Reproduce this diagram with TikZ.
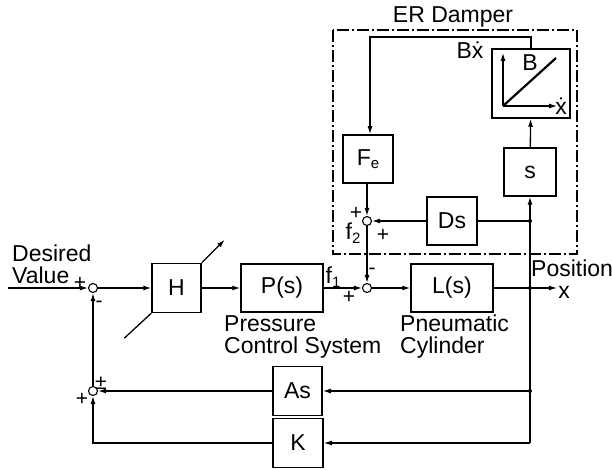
\documentclass[tikz,border=0pt]{standalone}
\usepackage{fontspec}
\setmainfont{Liberation Sans}
\usetikzlibrary{arrows.meta}
\newcommand\subtxt[1]{\raisebox{-0.3ex}{\fontsize{15}{15}\selectfont #1}}
\begin{document}
\begin{tikzpicture}[x=1pt,y=-1pt,
  every node/.style={font=\fontsize{23}{22}\selectfont},
  blk/.style={draw, line width=1.5pt, minimum width=50pt, minimum height=48pt, inner sep=0pt},
  sumj/.style={draw, circle, line width=1.1pt, minimum size=9pt, inner sep=0pt},
  con/.style={line width=1.3pt},
  arr/.style={con, -{Latex[length=8pt,width=5pt]}},
  sgn/.style={font=\fontsize{21}{21}\selectfont, inner sep=0pt},
  lbl/.style={inner sep=0pt},
  jdot/.style={circle, fill, inner sep=0pt, minimum size=4pt}]
\useasboundingbox (0,0) rectangle (612,470);
% blocks
\node[blk, minimum width=49pt, minimum height=49pt] (H) at (176.5,288) {H};
\node[blk, minimum width=82pt] (P) at (282,288) {P(s)};
\node[blk, minimum width=82pt] (L) at (452,288) {L(s)};
\node[blk] (Fe) at (368,159) {F\subtxt{e}};
\node[blk] (Ds) at (452,221) {Ds};
\node[blk, minimum width=52pt] (S) at (530,172) {s};
\node[blk, minimum width=78pt, minimum height=69pt] (B) at (531,83.5) {};
\node[blk, minimum width=49pt, minimum height=49pt] (As) at (297.5,391) {As};
\node[blk, minimum height=49pt] (K) at (298,443) {K};
% summing junctions
\node[sumj] (s1) at (93,288) {};
\node[sumj] (s2) at (367,288) {};
\node[sumj] (s3) at (367,221) {};
\node[sumj] (s4) at (93,391) {};
% coordinates
\coordinate (in) at (8,288);
\coordinate (out) at (557,288);
\coordinate (j1) at (530,288);
\coordinate (j2) at (530,221);
\coordinate (j3) at (530,391);
\coordinate (j4) at (530,443);
\coordinate (c1) at (531,37);
\coordinate (c2) at (370,37);
% damper frame
\draw[line width=1.1pt, dash pattern=on 12pt off 3pt on 2pt off 3pt] (333,30) rectangle (577,254);
% connectors
\draw[arr] (in) -- (s1);
\draw[arr] (s1) -- (H);
\draw[arr] (H) -- (P);
\draw[arr] (P) -- (s2);
\draw[arr] (s2) -- (L);
\draw[arr] (L) -- (out);
\draw[arr] (j4) -- (S);
\draw[con] (j2) -- (Ds);
\draw[arr] (Ds) -- (s3);
\draw[arr] (Fe.south -| s3) -- (s3);
\draw[arr] (s3) -- (s2);
\draw[arr] (S) -- (B);
\draw[arr] (B.north) -- (c1) -- (c2) -- (c2 |- Fe.north);
\draw[arr] (j3) -- (As);
\draw[arr] (As) -- (s4);
\draw[arr] (j4) -- (K);
\draw[arr] (K) -| (s4);
\draw[arr] (s4) -- (s1);
\node[jdot] at (j1) {};
\node[jdot] at (j2) {};
\node[jdot] at (j3) {};
% variable gain arrow through H
\draw[arr] (H.north east) -- ++(23,-23);
\draw[con] (H.south west) -- ++(-27,25);
% B graph
\draw[arr, line width=1.1pt] (503,106) -- (503,53);
\draw[arr, line width=1.1pt] (503,106) -- (557,106);
\draw[line width=2.2pt] (503,106) -- (556,58);
% labels
\node[lbl, anchor=west, align=left] at (12,264) {Desired\\Value};
\node[lbl, anchor=west, align=left] at (224,337) {Pressure\\Control System};
\node[lbl, anchor=west, align=left] at (400,337) {Pneumatic\\Cylinder};
\node[lbl, anchor=west] at (531,268) {Position};
\node[lbl] at (564,292) {x};
\node[lbl] at (453,17) {ER Damper};
\node[lbl] at (470,50) {B\.{x}};
\node[lbl] at (530,63) {B};
\node[lbl] at (561,106) {\.{x}};
\node[lbl] at (333,277) {f\subtxt{1}};
\node[lbl] at (353,233) {f\subtxt{2}};
% signs
\node[sgn] at (80,283) {+};
\node[sgn] at (99,304) {-};
\node[sgn] at (349,297) {+};
\node[sgn] at (372,271) {-};
\node[sgn] at (356,213) {+};
\node[sgn] at (383,235) {+};
\node[sgn] at (101,383) {±};
\node[sgn] at (82,399) {+};
\end{tikzpicture}
\end{document}
